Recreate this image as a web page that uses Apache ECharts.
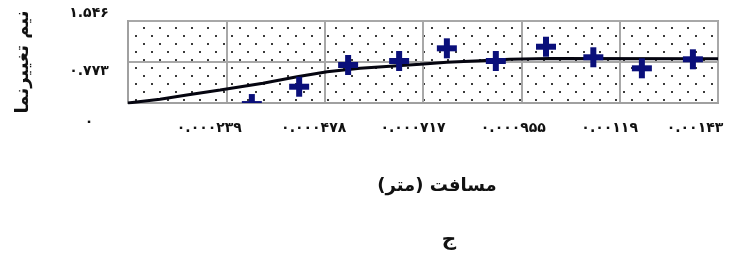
<!DOCTYPE html>
<html>
<head>
<meta charset="utf-8">
<script src="https://cdn.jsdelivr.net/npm/echarts@6/dist/echarts.min.js"></script>
<style>
html,body{margin:0;padding:0;background:#fff;}
#chart{width:730px;height:254px;}
</style>
</head>
<body>
<div id="chart"></div>
<script>
// ---- data ----
const xTickLabels = ['', '۰.۰۰۰۲۳۹', '۰.۰۰۰۴۷۸', '۰.۰۰۰۷۱۷', '۰.۰۰۰۹۵۵', '۰.۰۰۱۱۹', '۰.۰۰۱۴۳'];
const yTickLabels = ['۰', '۰.۷۷۳', '۱.۵۴۶'];
const xStep = 0.000239;
const yStep = 0.773;

// experimental semivariogram points
const pointX = [0.000301, 0.000416, 0.000535, 0.000659, 0.000775, 0.000894, 0.001016, 0.001131, 0.001249, 0.001373];
const pointY = [-0.02, 0.307, 0.716, 0.792, 1.031, 0.792, 1.061, 0.862, 0.654, 0.824];

// fitted model curve
const modelX = [0, 0.0000778, 0.000143, 0.000224, 0.000328, 0.000411, 0.000484, 0.000564, 0.00071, 0.000775, 0.000856, 0.000928, 0.001026, 0.001434];
const modelY = [0.0, 0.07, 0.151, 0.245, 0.371, 0.496, 0.59, 0.654, 0.73, 0.767, 0.798, 0.824, 0.839, 0.835];

const yAxisName = 'نیم تغییرنما';
const xAxisName = 'مسافت (متر)';
const caption = 'ج';

// ---- dotted background pattern ----
const pc = document.createElement('canvas');
pc.width = 16; pc.height = 16;
const pctx = pc.getContext('2d');
pctx.fillStyle = '#ffffff';
pctx.fillRect(0, 0, 16, 16);
pctx.fillStyle = '#3a3a3a';
pctx.fillRect(7, 3, 2, 2);
pctx.fillRect(15, 11, 2, 2);
pctx.fillRect(-1, 11, 2, 2);

const FONT = 'DejaVu Sans';
const chart = echarts.init(document.getElementById('chart'), null, {renderer: 'canvas'});

const xRich = {
  l0: {padding: [0, 34, 0, 0]},
  l1: {padding: [0, 22, 0, 0]},
  l2: {padding: [0, 20, 0, 0]},
  l3: {padding: [0, 16, 0, 0]},
  l4: {padding: [0, 20, 0, 0]},
  l5: {padding: [0, 46, 0, 0]}
};
Object.values(xRich).forEach(s => { s.fontFamily = FONT; s.fontWeight = 'bold'; s.fontSize = 14; s.color = '#111'; });
const yRich = {
  y0: {padding: [38, 0, 0, 0]},
  y1: {padding: [18, 0, 0, 0]},
  y2: {padding: [0, 0, 16, 0]}
};
Object.values(yRich).forEach(s => { s.fontFamily = FONT; s.fontWeight = 'bold'; s.fontSize = 14; s.color = '#111'; });

chart.setOption({
  animation: false,
  backgroundColor: '#fff',
  grid: {
    left: 128, top: 21, width: 590, height: 82,
    show: true,
    backgroundColor: {image: pc, repeat: 'repeat'},
    borderColor: '#a0a0a0', borderWidth: 2
  },
  xAxis: {
    type: 'value',
    min: 0, max: xStep * 6, interval: xStep,
    name: xAxisName,
    nameLocation: 'middle',
    nameGap: 74,
    nameTextStyle: {fontFamily: FONT, fontWeight: 'bold', fontSize: 18, color: '#111', padding: [0, 0, 0, 28]},
    axisLine: {show: true, lineStyle: {color: '#a0a0a0', width: 2}},
    axisTick: {show: false},
    splitLine: {show: true, lineStyle: {color: '#a8a8a8', width: 2}},
    axisLabel: {
      showMinLabel: false,
      margin: 18,
      rich: xRich,
      formatter: function (v) {
        const i = Math.round(v / xStep);
        if (i <= 0) return '';
        return '{l' + (i - 1) + '|' + xTickLabels[i] + '}';
      }
    }
  },
  yAxis: {
    type: 'value',
    min: 0, max: yStep * 2, interval: yStep,
    name: yAxisName,
    nameLocation: 'middle',
    nameGap: 96,
    nameRotate: 90,
    nameTextStyle: {fontFamily: FONT, fontWeight: 'bold', fontSize: 18, color: '#111'},
    axisLine: {show: true, lineStyle: {color: '#a0a0a0', width: 2}},
    axisTick: {show: false},
    splitLine: {show: true, lineStyle: {color: '#a8a8a8', width: 2}},
    axisLabel: {
      margin: 39,
      align: 'center',
      rich: yRich,
      formatter: function (v) {
        const i = Math.round(v / yStep);
        return '{y' + i + '|' + yTickLabels[i] + '}';
      }
    }
  },
  graphic: [{
    type: 'text', x: 449, y: 240,
    style: {text: caption, align: 'center', verticalAlign: 'middle', font: 'bold 20px "DejaVu Sans"', fill: '#111'}
  }],
  series: [
    {
      type: 'line',
      data: modelX.map((x, i) => [x, modelY[i]]),
      symbol: 'none',
      lineStyle: {color: '#050510', width: 3},
      z: 3
    },
    {
      type: 'custom',
      clip: true,
      z: 4,
      data: pointX.map((x, i) => [x, pointY[i]]),
      renderItem: function (params, api) {
        const p = api.coord([api.value(0), api.value(1)]);
        const c = '#0a0f7a';
        return {
          type: 'group',
          children: [
            {type: 'rect', shape: {x: p[0] - 10, y: p[1] - 3, width: 20, height: 6}, style: {fill: c}},
            {type: 'rect', shape: {x: p[0] - 3, y: p[1] - 10, width: 6, height: 20}, style: {fill: c}}
          ]
        };
      }
    }
  ]
});
</script>
</body>
</html>
